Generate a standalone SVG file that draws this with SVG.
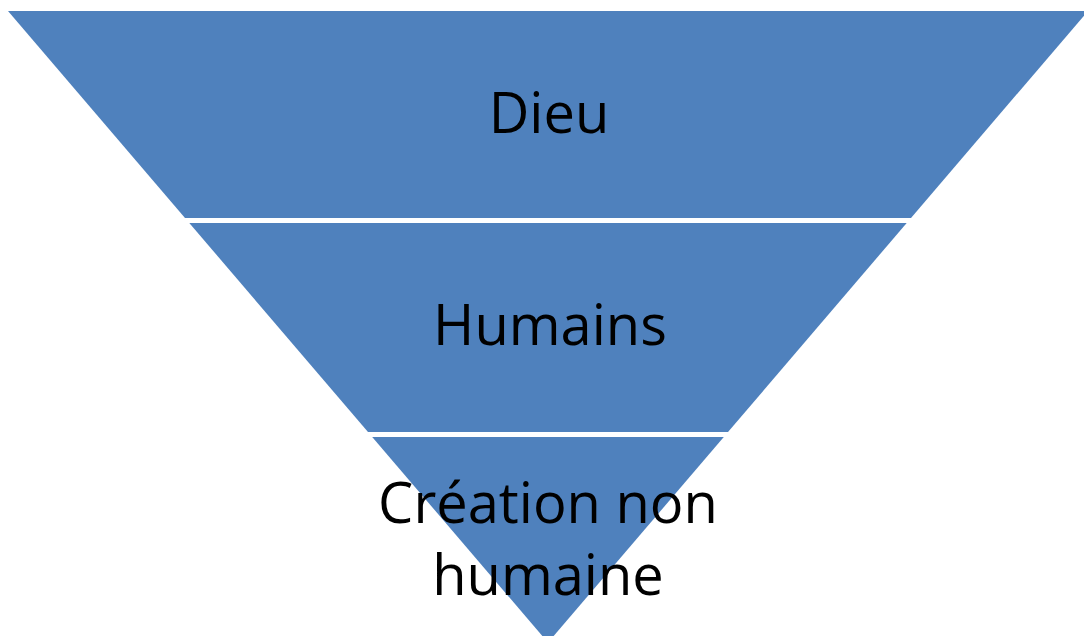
<svg xmlns="http://www.w3.org/2000/svg" width="1084" height="636" viewBox="0 0 1084 636">
  <style>
    .band { fill: #4F81BD; }
    .label { font-family: "Open Sans", "Noto Sans", "DejaVu Sans", sans-serif; font-size: 56px; fill: #000000; text-anchor: middle; }
  </style>
  <rect x="0" y="0" width="1084" height="636" fill="#FFFFFF"/>
  <g id="node-dieu">
    <polygon class="band" points="8,11 1088,11 911,218 185,218"/>
    <text class="label" x="549" y="133">Dieu</text>
  </g>
  <g id="node-humains">
    <polygon class="band" points="189.3,223 906.7,223 728,432 368,432"/>
    <text class="label" x="550" y="345">Humains</text>
  </g>
  <g id="node-creation">
    <polygon class="band" points="372.2,437 723.8,437 548,642.6"/>
    <text class="label" x="548" y="523">Création non</text>
    <text class="label" x="548" y="595">humaine</text>
  </g>
  <g id="connectors"></g>
</svg>
